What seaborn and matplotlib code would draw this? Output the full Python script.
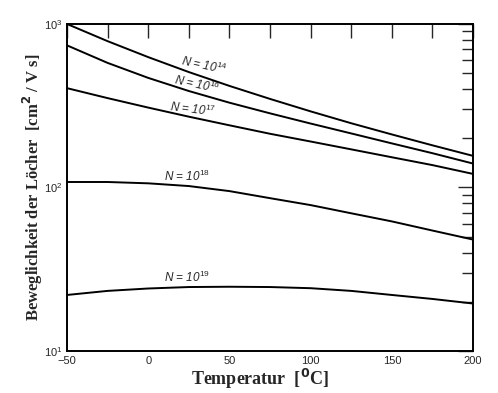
import numpy as np
import pandas as pd
import matplotlib
matplotlib.use("Agg")
import matplotlib.pyplot as plt
import matplotlib.ticker as mticker
import seaborn as sns

# temperature grid (deg C) and hole mobility (cm^2/Vs)
temps = [-50, -25, 0, 25, 50, 75, 100, 125, 150, 175, 200]
mu_1e14 = [1000, 785, 627, 508, 418, 348, 292, 247, 211, 181, 156]
mu_1e16 = [740, 578, 468, 389, 330, 284, 246, 214, 186, 162, 140]
mu_1e17 = [405, 352, 308, 271, 240, 213, 191, 171, 153, 137, 121]
mu_1e18 = [108, 108, 106, 102, 95, 86, 78, 69.5, 62, 54.5, 48]
mu_1e19 = [22.0, 23.3, 24.1, 24.6, 24.7, 24.6, 24.2, 23.3, 22.0, 20.8, 19.5]

series_names = ["1e14", "1e16", "1e17", "1e18", "1e19"]
label_texts = [r"N = 10$^{14}$", r"N = 10$^{16}$", r"N = 10$^{17}$",
               r"N = 10$^{18}$", r"N = 10$^{19}$"]
label_x = [34, 30, 27.6, 24, 23.6]
label_y = [560, 430, 302, 117, 28.2]
label_rot = [-12, -12, -7, 0, 0]

sns.set_style("white")
plt.rcParams["font.family"] = ["Liberation Sans", "DejaVu Sans"]
plt.rcParams["mathtext.fontset"] = "custom"
plt.rcParams["mathtext.rm"] = "Liberation Sans"

df = pd.DataFrame({
    "T": temps * 5,
    "mu": mu_1e14 + mu_1e16 + mu_1e17 + mu_1e18 + mu_1e19,
    "N": np.repeat(series_names, len(temps)),
})

fig = plt.figure(figsize=(4.98, 3.93), dpi=100)
ax = fig.add_axes([0.1345, 0.107, 0.8155, 0.832])

sns.lineplot(data=df, x="T", y="mu", hue="N", palette=["black"] * 5,
             linewidth=1.4, legend=False, ax=ax, estimator=None, sort=False)

ax.set_yscale("log")
ax.set_xlim(-50, 200)
ax.set_ylim(10, 1000)
ax.xaxis.set_major_locator(mticker.MultipleLocator(50))
ax.xaxis.set_minor_locator(mticker.MultipleLocator(25))
ax.yaxis.set_major_locator(mticker.LogLocator(base=10))
ax.yaxis.set_minor_locator(mticker.LogLocator(base=10, subs=np.arange(2, 10)))
ax.yaxis.set_minor_formatter(mticker.NullFormatter())

ax.tick_params(which="both", direction="in", top=True, right=True,
               labelsize=8, width=1.0)
ax.tick_params(axis="x", which="both", length=10)
ax.tick_params(axis="y", which="major", length=11)
ax.tick_params(axis="y", which="minor", length=8)
for s in ax.spines.values():
    s.set_linewidth(1.4)
    s.set_color("black")

for txt, tx, ty, rot in zip(label_texts, label_x, label_y, label_rot):
    ax.text(tx, ty, txt, fontsize=8.5, style="italic", rotation=rot,
            ha="center", va="center", rotation_mode="anchor")

ax.set_xlabel(r"Temperatur  [$^{\mathbf{0}}$C]", family="Liberation Serif",
              fontsize=13, fontweight="bold", labelpad=1)
ax.xaxis.label.set_x(0.475)
ax.set_ylabel("Beweglichkeit der Löcher  [cm$^{\\mathbf{2}}$ / V s]",
              family="Liberation Serif", fontsize=12, fontweight="bold",
              labelpad=-1)

fig.savefig("out.png", dpi=100)
